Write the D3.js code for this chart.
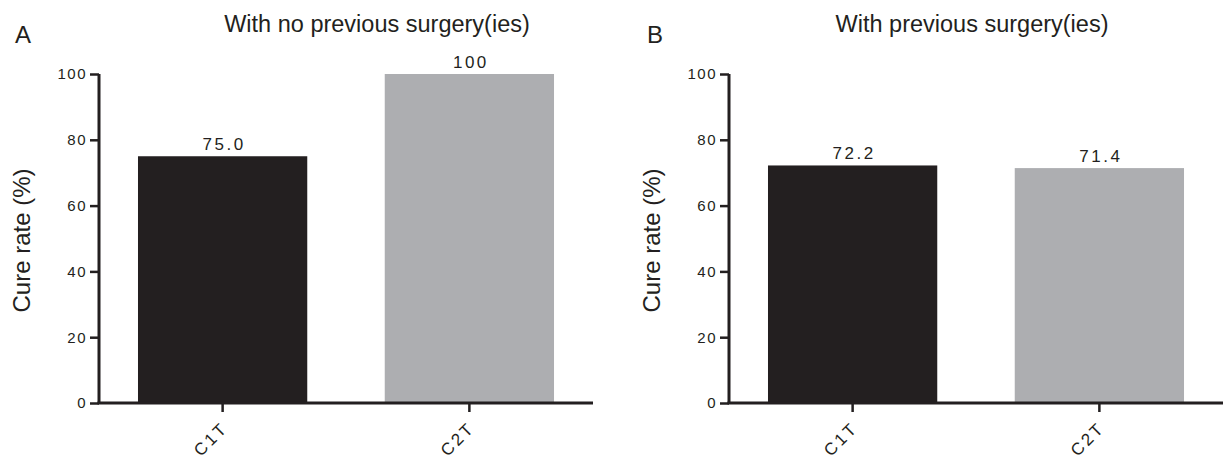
<!DOCTYPE html>
<html>
<head>
<meta charset="utf-8">
<script src="https://cdn.jsdelivr.net/npm/d3@7"></script>
<style>
  body { margin: 0; background: #fff; }
  text { font-family: 'Liberation Sans', Arial, sans-serif; fill: #231f20; }
</style>
</head>
<body>
<div id="canvas"></div>
<script>
/* global d3 */

// data
const categories = ['C1T', 'C2T']
const panelLetters = ['A', 'B']
const panelTitles = ['With no previous surgery(ies)', 'With previous surgery(ies)']
const valuesA = [75.0, 100]
const valuesB = [72.2, 71.4]
const valueLabelsA = ['75.0', '100']
const valueLabelsB = ['72.2', '71.4']
const yTicks = [0, 20, 40, 60, 80, 100]
const barColors = ['#231f20', '#adaeb1']

const width = 1224, height = 461
const ink = '#231f20'
const font = "'Liberation Sans', Arial, sans-serif"

const svg = d3.select('#canvas')
  .append('svg')
  .attr('width', width)
  .attr('height', height)

const panels = [
  {left: 99, letterX: 15, titleX: 377, values: valuesA, labels: valueLabelsA},
  {left: 729, letterX: 647, titleX: 972, values: valuesB, labels: valueLabelsB}
]

const plotTop = 74, plotBottom = 403, plotW = 494

const y = d3.scaleLinear()
  .domain([0, 100])
  .range([plotBottom, plotTop])

panels.forEach((p, i) => {
  const x = d3.scaleBand()
    .domain(categories)
    .range([p.left, p.left + plotW])
    .paddingInner(0.314)
    .paddingOuter(0.158)

  const g = svg.append('g')

  // bars
  g.selectAll('rect.bar')
    .data(categories)
    .enter()
    .append('rect')
    .attr('class', 'bar')
    .attr('x', d => x(d))
    .attr('width', x.bandwidth())
    .attr('y', (d, j) => y(p.values[j]))
    .attr('height', (d, j) => plotBottom - y(p.values[j]))
    .attr('fill', (d, j) => barColors[j])

  // value labels
  g.selectAll('text.val')
    .data(categories)
    .enter()
    .append('text')
    .attr('class', 'val')
    .attr('x', d => x(d) + x.bandwidth() / 2 + 1.5)
    .attr('y', (d, j) => y(p.values[j]) - 6)
    .attr('text-anchor', 'middle')
    .attr('font-size', '17px')
    .attr('letter-spacing', '2.5px')
    .text((d, j) => p.labels[j])

  // y axis
  const yAxis = g.append('g')
    .attr('transform', `translate(${p.left},0)`)
    .call(d3.axisLeft(y).tickValues(yTicks).tickSize(9).tickPadding(3))
  yAxis.select('.domain').attr('stroke', ink).attr('stroke-width', 3)
    .attr('d', `M0,${plotTop}V${plotBottom}`)
  yAxis.selectAll('.tick line').attr('stroke', ink).attr('stroke-width', 2.5)
  yAxis.selectAll('.tick text')
    .attr('font-size', '15px')
    .attr('letter-spacing', '1.5px')
    .attr('font-family', font)
    .attr('fill', ink)

  // x axis
  const xAxis = g.append('g')
    .attr('transform', `translate(0,${plotBottom})`)
    .call(d3.axisBottom(x).tickSize(9))
  xAxis.select('.domain').attr('stroke', ink).attr('stroke-width', 3)
    .attr('d', `M${p.left - 1.5},0H${p.left + plotW}`)
  xAxis.selectAll('.tick line').attr('stroke', ink).attr('stroke-width', 2.5)
  xAxis.selectAll('.tick text')
    .attr('font-size', '17px')
    .attr('letter-spacing', '2.5px')
    .attr('font-family', font)
    .attr('fill', ink)
    .attr('text-anchor', 'end')
    .attr('x', 0)
    .attr('y', 0)
    .attr('dy', '0.35em')
    .attr('transform', 'translate(2,22) rotate(-45)')

  // y label
  g.append('text')
    .attr('transform', `translate(${p.left - 69},${(plotTop + plotBottom) / 2 + 2}) rotate(-90)`)
    .attr('text-anchor', 'middle')
    .attr('font-size', '24px')
    .text('Cure rate (%)')

  // title and panel letter
  g.append('text')
    .attr('x', p.titleX)
    .attr('y', 32)
    .attr('text-anchor', 'middle')
    .attr('font-size', '23.5px')
    .text(panelTitles[i])

  g.append('text')
    .attr('x', p.letterX)
    .attr('y', 43)
    .attr('font-size', '24px')
    .text(panelLetters[i])
})
</script>
</body>
</html>
